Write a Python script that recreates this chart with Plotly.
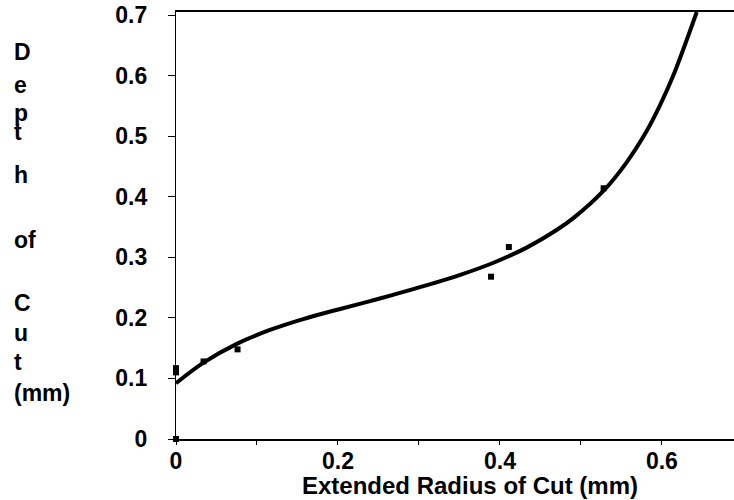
import plotly.graph_objects as go

# Fitted curve
curve_x = [0, 0.034, 0.075, 0.116, 0.157, 0.198, 0.235, 0.268, 0.31, 0.351,
           0.392, 0.433, 0.47, 0.491, 0.528, 0.556, 0.581, 0.598, 0.614, 0.643]
curve_y = [0.092, 0.126, 0.157, 0.180, 0.198, 0.213, 0.226, 0.238, 0.254, 0.271,
           0.291, 0.316, 0.345, 0.365, 0.410, 0.456, 0.508, 0.552, 0.600, 0.705]

# Measured points
pts_x = [0, 0, 0, 0.034, 0.076, 0.389, 0.411, 0.528]
pts_y = [0, 0.117, 0.110, 0.128, 0.148, 0.268, 0.317, 0.414]

x_ticks = [0, 0.1, 0.2, 0.3, 0.4, 0.5, 0.6]
x_tick_text = ["0", "", "0.2", "", "0.4", "", "0.6"]
y_ticks = [0, 0.1, 0.2, 0.3, 0.4, 0.5, 0.6, 0.7]
y_tick_text = ["0", "0.1", "0.2", "0.3", "0.4", "0.5", "0.6", "0.7"]

y_title_parts = ["D", "e", "p", "t", "h", "of", "C", "u", "t", "(mm)"]
y_title_px = [52, 85, 113, 132, 175, 240, 303, 333, 362, 393]

FONT = "Liberation Sans, Arial, sans-serif"
W, H = 734, 500
L, R, T, B = 176, 0, 12, 61

fig = go.Figure()
fig.add_trace(go.Scatter(x=curve_x, y=curve_y, mode="lines",
                         line=dict(color="black", width=4, shape="spline", smoothing=1),
                         showlegend=False, hoverinfo="skip"))
fig.add_trace(go.Scatter(x=pts_x, y=pts_y, mode="markers",
                         marker=dict(symbol="square", size=6, color="black"),
                         cliponaxis=False, showlegend=False))

plot_h = H - T - B
for txt, py in zip(y_title_parts, y_title_px):
    fig.add_annotation(text="<b>%s</b>" % txt, xref="paper", yref="paper",
                       x=(12 - L) / (W - L - R), y=(H - B - py) / plot_h,
                       xanchor="left", yanchor="middle", showarrow=False,
                       font=dict(family=FONT, size=23, color="black"))

fig.add_annotation(text="<b>Extended Radius of Cut (mm)</b>", xref="paper", yref="paper",
                   x=(470 - L) / (W - L - R), y=(H - B - 486) / plot_h,
                   xanchor="center", yanchor="middle", showarrow=False,
                   font=dict(family=FONT, size=24, color="black"))

fig.update_layout(
    width=W, height=H,
    margin=dict(l=L, r=R, t=T, b=B),
    paper_bgcolor="white", plot_bgcolor="white",
    font=dict(family=FONT, color="black"),
    xaxis=dict(range=[0, 0.689], tickvals=x_ticks, ticktext=x_tick_text,
               showgrid=False, zeroline=False, showline=True, linecolor="black",
               linewidth=1.5, mirror=True, ticks="outside", ticklen=4,
               tickcolor="black", ticklabelstandoff=-3,
               tickfont=dict(family=FONT, size=23, color="black", weight="bold")),
    yaxis=dict(range=[0, 0.705], tickvals=y_ticks, ticktext=y_tick_text,
               showgrid=False, zeroline=False, showline=True, linecolor="black",
               linewidth=1.2, ticks="outside", ticklen=7, tickcolor="black",
               ticklabelstandoff=16,
               tickfont=dict(family=FONT, size=23, color="black", weight="bold")),
)

fig.write_html("out.html")
